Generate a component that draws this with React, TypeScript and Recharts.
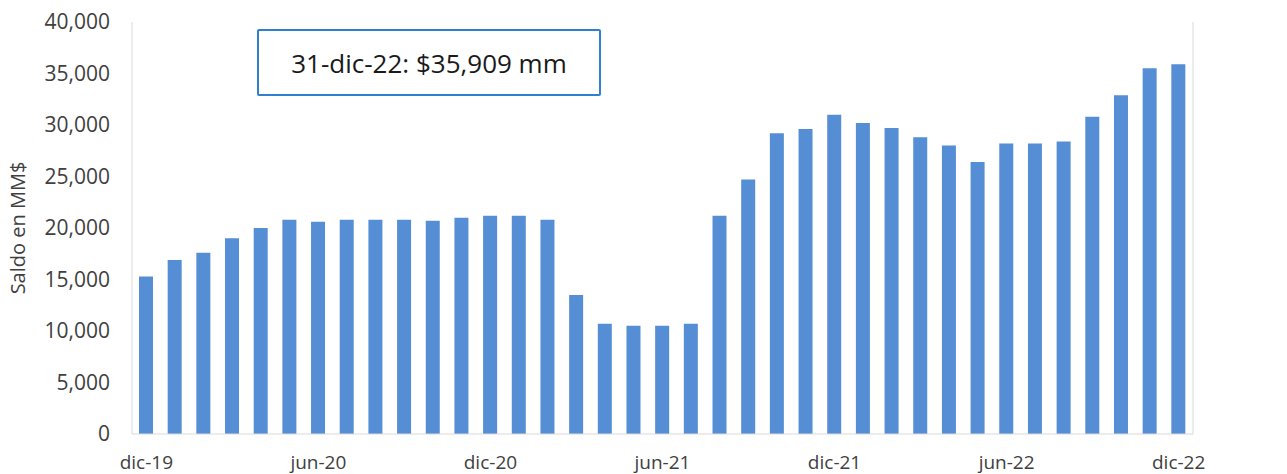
import React from 'react';
import { BarChart, Bar, XAxis, YAxis } from 'recharts';

// Monthly labels, dic-19 .. dic-22
const months = [
  'dic-19', 'ene-20', 'feb-20', 'mar-20', 'abr-20', 'may-20', 'jun-20', 'jul-20', 'ago-20', 'sep-20', 'oct-20', 'nov-20',
  'dic-20', 'ene-21', 'feb-21', 'mar-21', 'abr-21', 'may-21', 'jun-21', 'jul-21', 'ago-21', 'sep-21', 'oct-21', 'nov-21',
  'dic-21', 'ene-22', 'feb-22', 'mar-22', 'abr-22', 'may-22', 'jun-22', 'jul-22', 'ago-22', 'sep-22', 'oct-22', 'nov-22',
  'dic-22',
];

// Saldo en MM$
const saldo = [
  15300, 16900, 17600, 19000, 20000, 20800, 20600, 20800, 20800, 20800, 20700, 21000,
  21200, 21200, 20800, 13500, 10700, 10500, 10500, 10700, 21200, 24700, 29200, 29600,
  31000, 30200, 29700, 28800, 28000, 26400, 28200, 28200, 28400, 30800, 32900, 35500,
  35909,
];

const yTicks = [0, 5000, 10000, 15000, 20000, 25000, 30000, 35000, 40000];

const data = months.map((m, i) => ({ mes: m, saldo: saldo[i] }));

const fmt = (v: number) => v.toLocaleString('en-US');
const FONT = '"Open Sans", sans-serif';
const TEXT = '#404040';
const AXIS = '#d9d9d9';

export default function App() {
  return (
    <div style={{ position: 'fixed', left: 0, top: 0, width: 1287, height: 474, background: '#fff' }}>
      {/* barCategoryGap="50%" leaves the bars empty here, so the width is fixed */}
      <BarChart
        width={1287}
        height={474}
        data={data}
        margin={{ top: 22, right: 0, bottom: 0, left: 0 }}
        barSize={14}
      >
        <XAxis
          dataKey="mes"
          interval={5}
          tickLine={false}
          axisLine={{ stroke: AXIS }}
          tick={{ fill: TEXT, fontSize: 19, fontFamily: FONT }}
          tickMargin={16}
          height={40}
        />
        <YAxis
          domain={[0, 40000]}
          ticks={yTicks}
          tickFormatter={fmt}
          width={132}
          tickLine={false}
          axisLine={{ stroke: AXIS }}
          tickMargin={16}
          tick={{ fill: TEXT, fontSize: 21, fontFamily: FONT }}
          label={{
            content: () => (
              <text
                x={20}
                y={228}
                transform="rotate(-90 20 228)"
                textAnchor="middle"
                dominantBaseline="middle"
                fill={TEXT}
                fontSize={20}
                fontFamily={FONT}
              >
                Saldo en MM$
              </text>
            ),
          }}
        />
        <YAxis
          yAxisId="right"
          orientation="right"
          domain={[0, 40000]}
          ticks={yTicks}
          tickFormatter={fmt}
          width={94}
          tickLine={false}
          axisLine={{ stroke: AXIS }}
          tickMargin={16}
          tick={{ fill: TEXT, fontSize: 21, fontFamily: FONT, textAnchor: 'start' }}
        />
        <Bar dataKey="saldo" fill="#558ed5" isAnimationActive={false} />
      </BarChart>

      {/* Annotation box */}
      <div
        style={{
          position: 'absolute',
          left: 257,
          top: 29,
          width: 344,
          height: 67,
          boxSizing: 'border-box',
          border: '2px solid #2f80d1',
          borderRadius: 2,
          background: '#fff',
          display: 'flex',
          alignItems: 'center',
          justifyContent: 'center',
          fontFamily: FONT,
          fontSize: 26,
          color: '#1a1a1a',
        }}
      >
        31-dic-22: $35,909 mm
      </div>
    </div>
  );
}
